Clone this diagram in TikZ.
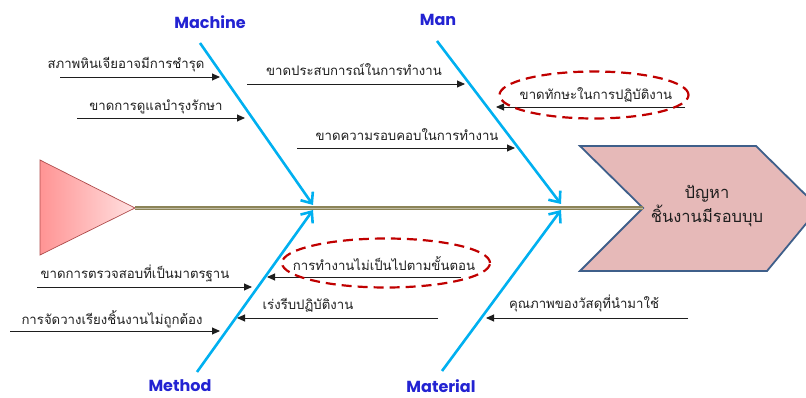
\documentclass[tikz,border=0pt]{standalone}
\usepackage{fontspec}
\usetikzlibrary{arrows.meta,shapes.geometric}
\newfontfamily\thaifont[Script=Thai]{Loma}
\newfontfamily\labfont{Poppins}
\definecolor{bonec}{HTML}{00B0F0}
\definecolor{labc}{HTML}{2323D2}
\definecolor{spinec}{HTML}{8C8458}
\definecolor{headfill}{HTML}{E6B9B8}
\definecolor{headdraw}{HTML}{3F5F8A}
\definecolor{ringc}{HTML}{C00000}
\definecolor{txtc}{HTML}{1E1E1E}
\tikzset{
  bone/.style={draw=bonec,line width=2.6pt,-{Straight Barb[length=9pt,width=15pt,line width=2.6pt]}},
  cause/.style={draw=txtc,line width=0.9pt,-{Triangle[length=8pt,width=7pt]}},
  ctext/.style={font=\thaifont\fontsize{13.2}{15}\selectfont,text=txtc,inner sep=0pt},
  lab/.style={font=\labfont\bfseries\fontsize{16}{19}\selectfont,text=labc,inner sep=0pt},
  ring/.style={draw=ringc,line width=2.2pt,dash pattern=on 10pt off 6pt,ellipse,minimum width=#1,inner sep=0pt}
}
\begin{document}
\begin{tikzpicture}[x=1pt,y=-1pt]
\useasboundingbox (0,0) rectangle (806,398);
% tail triangle
\coordinate (tA) at (40,160);
\coordinate (tB) at (40,255);
\coordinate (tip) at (135,208);
\shade[left color=red!42,right color=red!12,draw=red!55!black!70,line width=0.7pt] (tA) -- (tip) -- (tB) -- cycle;
% head chevron
\coordinate (notch) at (643,208);
\clip (0,0) rectangle (806,398);
\draw[fill=headfill,draw=headdraw,line width=1.8pt] (580,146) -- (756,146) -- (819,208) -- (767,271) -- (580,271) -- (notch) -- cycle;
\node[font=\thaifont\fontsize{16.5}{19}\selectfont,text=txtc,align=center] (head) at (707,206) {ปัญหา\\[1pt]ชิ้นงานมีรอบบุบ};
% spine
\draw[spinec,line width=3.5pt] (tip) -- (notch);
\draw[spinec!55!white,line width=0.7pt] (tip) -- (notch);
% bones
\coordinate (j1) at (313,205);
\coordinate (j1b) at (313,210);
\coordinate (j2) at (561,204);
\coordinate (j2b) at (561,210);
\coordinate (mcS) at (200,43);
\coordinate (mtS) at (197,372);
\coordinate (mnS) at (437,41);
\coordinate (maS) at (442,371);
\draw[bone] (mcS) -- (j1);
\draw[bone] (mtS) -- (j1b);
\draw[bone] (mnS) -- (j2);
\draw[bone] (maS) -- (j2b);
% labels
\node[lab] (lMachine) at (210,22) {Machine};
\node[lab] (lMan) at (438,20) {Man};
\node[lab] (lMethod) at (180,386) {Method};
\node[lab] (lMaterial) at (441,386) {Material};
% causes
\node[ctext] (c1) at (126,65) {สภาพหินเจียอาจมีการชำรุด};
\coordinate (c1a) at (60,77); \coordinate (c1b) at (220,77);
\draw[cause] (c1a) -- (c1b);
\node[ctext] (c2) at (156,107) {ขาดการดูแลบำรุงรักษา};
\coordinate (c2a) at (77,118); \coordinate (c2b) at (245,118);
\draw[cause] (c2a) -- (c2b);
\node[ctext] (c3) at (354,70) {ขาดประสบการณ์ในการทำงาน};
\coordinate (c3a) at (247,84); \coordinate (c3b) at (465,84);
\draw[cause] (c3a) -- (c3b);
\node[ctext] (c4) at (407,135) {ขาดความรอบคอบในการทำงาน};
\coordinate (c4a) at (297,148); \coordinate (c4b) at (515,148);
\draw[cause] (c4a) -- (c4b);
\node[ctext] (c5) at (596,95) {ขาดทักษะในการปฏิบัติงาน};
\coordinate (c5a) at (685,107); \coordinate (c5b) at (496,107);
\draw[cause] (c5a) -- (c5b);
\node[ring=189pt,minimum height=47pt] (r5) at (594,95) {};
\node[ctext] (c6) at (384,264) {การทำงานไม่เป็นไปตามขั้นตอน};
\coordinate (c6a) at (461,277); \coordinate (c6b) at (267,277);
\draw[cause] (c6a) -- (c6b);
\node[ring=208pt,minimum height=49pt] (r6) at (386,263) {};
\node[ctext] (c7) at (308,305) {เร่งรีบปฏิบัติงาน};
\coordinate (c7a) at (438,318); \coordinate (c7b) at (237,318);
\draw[cause] (c7a) -- (c7b);
\node[ctext] (c8) at (135,273) {ขาดการตรวจสอบที่เป็นมาตรฐาน};
\coordinate (c8a) at (37,287); \coordinate (c8b) at (252,287);
\draw[cause] (c8a) -- (c8b);
\node[ctext] (c9) at (112,319) {การจัดวางเรียงชิ้นงานไม่ถูกต้อง};
\coordinate (c9a) at (10,331); \coordinate (c9b) at (220,331);
\draw[cause] (c9a) -- (c9b);
\node[ctext] (c10) at (584,303) {คุณภาพของวัสดุที่นำมาใช้};
\coordinate (c10a) at (688,318); \coordinate (c10b) at (486,318);
\draw[cause] (c10a) -- (c10b);
\end{tikzpicture}
\end{document}
